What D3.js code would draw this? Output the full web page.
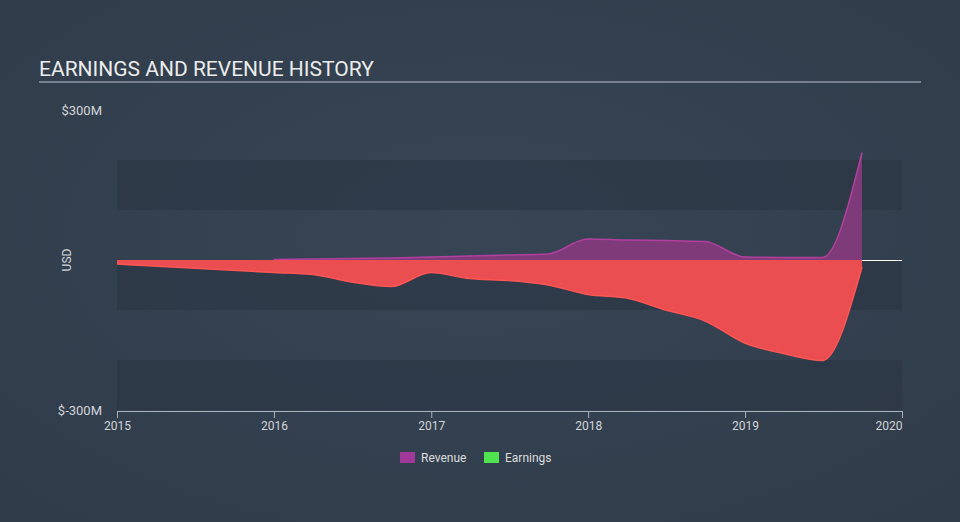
<!DOCTYPE html>
<html>
<head>
<meta charset="utf-8">
<script src="https://cdn.jsdelivr.net/npm/d3@7"></script>
<style>
  body { margin: 0; background: #333f4e; }
  svg { display: block; font-family: Roboto, "Open Sans", sans-serif; }
</style>
</head>
<body>
<div id="chart-container"></div>
<script>
// Data (values in $M)
const earningsDates = ["2015-01-01", "2015-12-31", "2016-03-31", "2016-06-30", "2016-09-30", "2016-12-31",
  "2017-03-31", "2017-06-30", "2017-09-30", "2017-12-31", "2018-03-31", "2018-06-30", "2018-09-30",
  "2018-12-31", "2019-03-31", "2019-06-30", "2019-09-30"];
const earningsValues = [-8, -25, -29, -44, -53, -25, -37, -41, -50, -69, -76, -100, -122, -166, -187, -201, -14];

const revenueDates = ["2015-12-31", "2016-03-31", "2016-06-30", "2016-09-30", "2016-12-31",
  "2017-03-31", "2017-06-30", "2017-09-30", "2017-12-31", "2018-03-31", "2018-06-30", "2018-09-30",
  "2018-12-31", "2019-03-31", "2019-06-30", "2019-09-30"];
const revenueValues = [1, 2, 3, 4, 6, 8, 10, 12, 42, 40, 39, 37, 6, 5, 5, 215];

const yearTicks = [2015, 2016, 2017, 2018, 2019, 2020];
const bandRanges = [[100, 200], [-100, 0], [-300, -200]];
const legendItems = [
  { name: "Revenue", color: "#a0399a" },
  { name: "Earnings", color: "#4fe34f" }
];

const W = 960, H = 522;
const margin = { top: 110, right: 58, bottom: 112, left: 117 };
const width = W - margin.left - margin.right;
const height = H - margin.top - margin.bottom;

const parse = d3.timeParse("%Y-%m-%d");
const earnings = earningsDates.map((d, i) => ({ date: parse(d), value: earningsValues[i] }));
const revenue = revenueDates.map((d, i) => ({ date: parse(d), value: revenueValues[i] }));

const x = d3.scaleTime()
  .domain([new Date(2015, 0, 1), new Date(2020, 0, 1)])
  .range([0, width]);

const y = d3.scaleLinear()
  .domain([-300, 300])
  .range([height, 0]);

const svgRoot = d3.select("#chart-container")
  .append("svg")
  .attr("width", W)
  .attr("height", H);

// background gradient
const defs = svgRoot.append("defs");
const grad = defs.append("radialGradient")
  .attr("id", "bg")
  .attr("cx", "50%").attr("cy", "45%").attr("r", "70%");
grad.append("stop").attr("offset", "0%").attr("stop-color", "#374555");
grad.append("stop").attr("offset", "100%").attr("stop-color", "#303c4a");

svgRoot.append("rect")
  .attr("width", W)
  .attr("height", H)
  .attr("fill", "url(#bg)");

// Title
svgRoot.append("text")
  .attr("x", 39)
  .attr("y", 76)
  .style("font-size", "21px")
  .style("fill", "#ececec")
  .text("EARNINGS AND REVENUE HISTORY");

svgRoot.append("line")
  .attr("x1", 39)
  .attr("x2", 921)
  .attr("y1", 82)
  .attr("y2", 82)
  .attr("stroke", "#8f99a3")
  .attr("stroke-width", 1.5);

const svg = svgRoot.append("g")
  .attr("transform", `translate(${margin.left},${margin.top})`);

// Dark bands
svg.selectAll(".band")
  .data(bandRanges)
  .join("rect")
  .attr("class", "band")
  .attr("x", 0)
  .attr("width", width)
  .attr("y", d => y(d[1]))
  .attr("height", d => y(d[0]) - y(d[1]))
  .attr("fill", "#2b3644")
  .attr("opacity", 0.6);

// Y labels
svg.selectAll(".ylab")
  .data([300, -300])
  .join("text")
  .attr("class", "ylab")
  .attr("x", -15)
  .attr("y", d => y(d))
  .attr("dy", "0.35em")
  .attr("text-anchor", "end")
  .style("font-size", "13px")
  .style("fill", "#d2d4d7")
  .text(d => d < 0 ? `$-${Math.abs(d)}M` : `$${d}M`);

svg.append("text")
  .attr("transform", `translate(-50,${y(0)}) rotate(-90)`)
  .attr("text-anchor", "middle")
  .attr("dy", "0.35em")
  .style("font-size", "12px")
  .style("fill", "#d2d4d7")
  .text("USD");

const area = d3.area()
  .curve(d3.curveMonotoneX)
  .x(d => x(d.date))
  .y0(y(0))
  .y1(d => y(d.value));

const line = d3.line()
  .curve(d3.curveMonotoneX)
  .x(d => x(d.date))
  .y(d => y(d.value));

// Zero line (the areas cover it where data exists)
svg.append("line")
  .attr("x1", 0)
  .attr("x2", width)
  .attr("y1", y(0) + 0.5)
  .attr("y2", y(0) + 0.5)
  .attr("stroke", "#ffffff")
  .attr("stroke-width", 1)
  .attr("shape-rendering", "crispEdges");

// Revenue area
svg.append("path")
  .datum(revenue)
  .attr("fill", "#7e3a79")
  .attr("d", area);
svg.append("path")
  .datum(revenue)
  .attr("fill", "none")
  .attr("stroke", "#b2409f")
  .attr("stroke-width", 1.5)
  .attr("d", line);

// Earnings area
svg.append("path")
  .datum(earnings)
  .attr("fill", "#ea4e50")
  .attr("d", area);
svg.append("path")
  .datum(earnings)
  .attr("fill", "none")
  .attr("stroke", "#ff5555")
  .attr("stroke-width", 1.5)
  .attr("d", line);

// X axis
const xAxis = svg.append("g")
  .attr("transform", `translate(0,${height + 1})`)
  .call(d3.axisBottom(x)
    .tickValues(yearTicks.map(d => new Date(d, 0, 1)))
    .tickFormat(d3.timeFormat("%Y"))
    .tickSize(7)
    .tickSizeOuter(0)
    .tickPadding(3));
xAxis.select(".domain").attr("stroke", "#aab2bb");
xAxis.selectAll(".tick line").attr("stroke", "#aab2bb");
xAxis.selectAll(".tick text")
  .style("font-size", "12px")
  .style("font-family", "Roboto, sans-serif")
  .style("fill", "#d2d4d7")
  .attr("text-anchor", (d, i) => i === yearTicks.length - 1 ? "end" : "middle");

// Legend
const legend = svgRoot.append("g")
  .attr("transform", "translate(400,452)");
const item = legend.selectAll(".item")
  .data(legendItems)
  .join("g")
  .attr("class", "item")
  .attr("transform", (d, i) => `translate(${i * 84},0)`);
item.append("rect")
  .attr("width", 15)
  .attr("height", 11)
  .attr("fill", d => d.color);
item.append("text")
  .attr("x", 21)
  .attr("y", 6)
  .attr("dy", "0.35em")
  .style("font-size", "12px")
  .style("fill", "#dcdcdc")
  .text(d => d.name);
</script>
</body>
</html>
